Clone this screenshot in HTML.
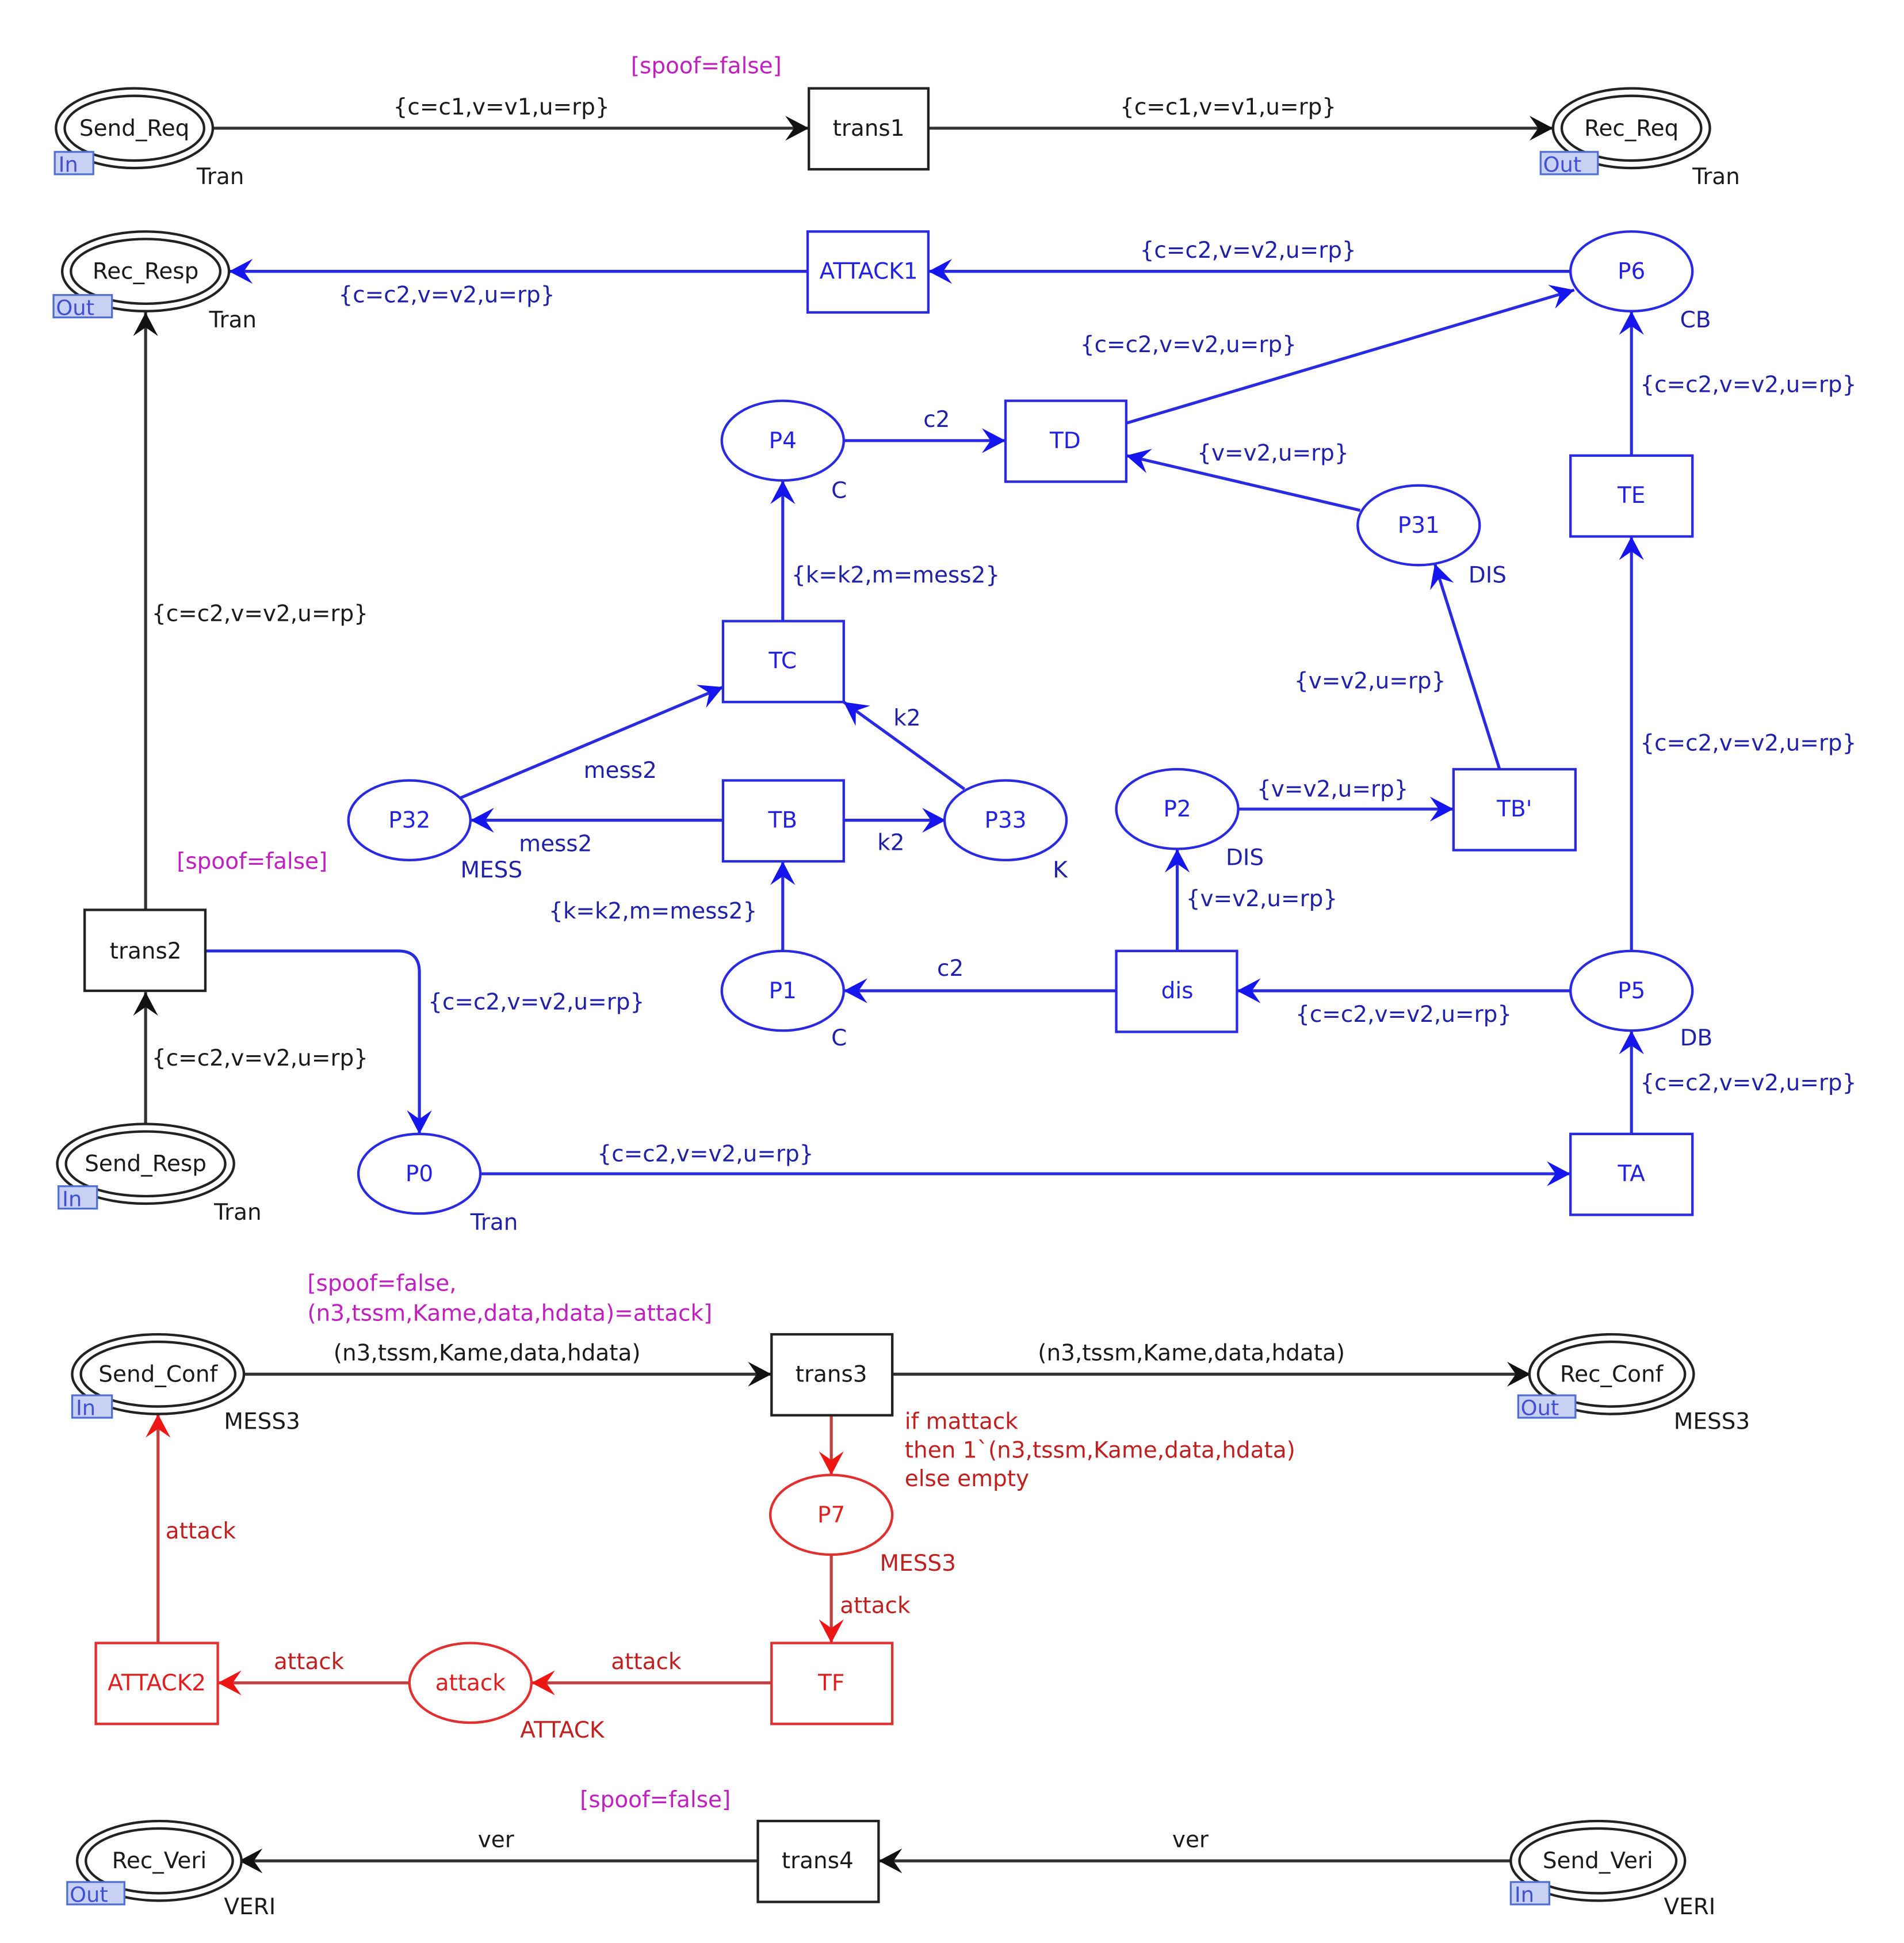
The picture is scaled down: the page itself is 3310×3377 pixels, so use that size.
<!DOCTYPE html>
<html><head><meta charset="utf-8"><style>
html,body{margin:0;padding:0;background:#fff;}
svg{display:block;}
text{font-family:"DejaVu Sans","Liberation Sans",sans-serif;font-size:18px;}
.k{fill:#1a1a1a}.b{fill:#2020a8}.bn{fill:#2222e0}.m{fill:#c020c0}.r{fill:#c02020}.rn{fill:#e02020}
</style></head><body>
<svg width="3310" height="3377" viewBox="0 0 1530 1561" preserveAspectRatio="none" xmlns="http://www.w3.org/2000/svg">
<defs>
<marker id="ak" markerUnits="userSpaceOnUse" markerWidth="24" markerHeight="24" refX="0" refY="0" viewBox="-20 -12 22 24" orient="auto"><path d="M0,0 L-19,-10 L-12,0 L-19,10 Z" fill="#111"/></marker>
<marker id="ab" markerUnits="userSpaceOnUse" markerWidth="24" markerHeight="24" refX="0" refY="0" viewBox="-20 -12 22 24" orient="auto"><path d="M0,0 L-19,-10 L-12,0 L-19,10 Z" fill="#1515ee"/></marker>
<marker id="ar" markerUnits="userSpaceOnUse" markerWidth="24" markerHeight="24" refX="0" refY="0" viewBox="-20 -12 22 24" orient="auto"><path d="M0,0 L-19,-10 L-12,0 L-19,10 Z" fill="#ee1515"/></marker>
</defs>
<g fill="none" stroke-width="2.4">
<!-- black arcs -->
<g stroke="#333" marker-end="url(#ak)">
<line x1="171" y1="103" x2="650" y2="103"/>
<line x1="746" y1="103" x2="1248" y2="103"/>
<line x1="117" y1="731" x2="117" y2="251"/>
<line x1="117" y1="903" x2="117" y2="797"/>
<line x1="190" y1="1104" x2="620" y2="1104"/>
<line x1="717" y1="1104" x2="1230" y2="1104"/>
<line x1="1216" y1="1495" x2="706" y2="1495"/>
<line x1="609" y1="1495" x2="192" y2="1495"/>
</g>
<!-- blue arcs -->
<g stroke="#2a2ae0" marker-end="url(#ab)">
<line x1="1262" y1="218" x2="746" y2="218"/>
<line x1="649" y1="218" x2="184" y2="218"/>
<line x1="905" y1="340" x2="1265" y2="233"/>
<line x1="1311" y1="366" x2="1311" y2="250"/>
<line x1="678" y1="354" x2="808" y2="354"/>
<line x1="1093" y1="410" x2="905" y2="366"/>
<line x1="629" y1="499" x2="629" y2="386"/>
<line x1="370" y1="641" x2="581" y2="552"/>
<line x1="775" y1="634" x2="678" y2="564"/>
<line x1="581" y1="659" x2="378" y2="659"/>
<line x1="678" y1="659" x2="760" y2="659"/>
<line x1="629" y1="764" x2="629" y2="692"/>
<line x1="1205" y1="618" x2="1153" y2="453"/>
<line x1="995" y1="650" x2="1168" y2="650"/>
<line x1="946" y1="764" x2="946" y2="682"/>
<line x1="897" y1="796" x2="678" y2="796"/>
<line x1="1262" y1="796" x2="994" y2="796"/>
<line x1="1311" y1="764" x2="1311" y2="431"/>
<line x1="1311" y1="911" x2="1311" y2="828"/>
<line x1="386" y1="943" x2="1262" y2="943"/>
<path d="M165,764 L320,764 Q337,764 337,781 L337,911"/>
</g>
<!-- red arcs -->
<g stroke="#c04040" marker-end="url(#ar)">
<line x1="668" y1="1137" x2="668" y2="1185"/>
<line x1="668" y1="1249" x2="668" y2="1320"/>
<line x1="620" y1="1352" x2="427" y2="1352"/>
<line x1="329" y1="1352" x2="175" y2="1352"/>
<line x1="127" y1="1320" x2="127" y2="1136"/>
</g>
<!-- black places -->
<g stroke="#222" fill="#fff" stroke-width="2">
<ellipse cx="108" cy="103" rx="63" ry="32"/><ellipse cx="108" cy="103" rx="56" ry="26"/>
<ellipse cx="1311" cy="103" rx="63" ry="32"/><ellipse cx="1311" cy="103" rx="56" ry="26"/>
<ellipse cx="117" cy="218" rx="67" ry="32"/><ellipse cx="117" cy="218" rx="60" ry="26"/>
<ellipse cx="117" cy="935" rx="71" ry="32"/><ellipse cx="117" cy="935" rx="64" ry="26"/>
<ellipse cx="127" cy="1104" rx="69" ry="32"/><ellipse cx="127" cy="1104" rx="62" ry="26"/>
<ellipse cx="1295" cy="1104" rx="66" ry="32"/><ellipse cx="1295" cy="1104" rx="59" ry="26"/>
<ellipse cx="128" cy="1495" rx="66" ry="32"/><ellipse cx="128" cy="1495" rx="59" ry="26"/>
<ellipse cx="1284" cy="1495" rx="70" ry="32"/><ellipse cx="1284" cy="1495" rx="63" ry="26"/>
<rect x="650" y="71" width="96" height="65"/>
<rect x="68" y="731" width="97" height="65"/>
<rect x="620" y="1072" width="97" height="65"/>
<rect x="609" y="1463" width="97" height="65"/>
</g>
<!-- port tags -->
<g fill="#c8d0f4" stroke="#5070d0" stroke-width="1.5">
<rect x="44" y="122" width="31" height="18"/>
<rect x="1238" y="122" width="46" height="18"/>
<rect x="43" y="237" width="47" height="18"/>
<rect x="47" y="953" width="31" height="18"/>
<rect x="58" y="1121" width="32" height="18"/>
<rect x="1220" y="1121" width="46" height="18"/>
<rect x="54" y="1512" width="46" height="18"/>
<rect x="1214" y="1512" width="31" height="18"/>
</g>
<!-- blue nodes -->
<g stroke="#2a2ae0" fill="#fff" stroke-width="2">
<rect x="649" y="186" width="97" height="65"/>
<rect x="808" y="322" width="97" height="65"/>
<rect x="1262" y="366" width="98" height="65"/>
<rect x="581" y="499" width="97" height="65"/>
<rect x="581" y="627" width="97" height="65"/>
<rect x="1168" y="618" width="98" height="65"/>
<rect x="897" y="764" width="97" height="65"/>
<rect x="1262" y="911" width="98" height="65"/>
<ellipse cx="1311" cy="218" rx="49" ry="32"/>
<ellipse cx="629" cy="354" rx="49" ry="32"/>
<ellipse cx="1140" cy="422" rx="49" ry="32"/>
<ellipse cx="329" cy="659" rx="49" ry="32"/>
<ellipse cx="808" cy="659" rx="49" ry="32"/>
<ellipse cx="946" cy="650" rx="49" ry="32"/>
<ellipse cx="629" cy="796" rx="49" ry="32"/>
<ellipse cx="1311" cy="796" rx="49" ry="32"/>
<ellipse cx="337" cy="943" rx="49" ry="32"/>
</g>
<!-- red nodes -->
<g stroke="#e03030" fill="#fff" stroke-width="2">
<rect x="620" y="1320" width="97" height="65"/>
<rect x="77" y="1320" width="98" height="65"/>
<ellipse cx="668" cy="1217" rx="49" ry="32"/>
<ellipse cx="378" cy="1352" rx="49" ry="32"/>
</g>
</g>
<!-- port tag text -->
<g fill="#4050d0" font-size="17">
<text x="47" y="138" style="font-size:17px">In</text>
<text x="1240" y="138" style="font-size:17px">Out</text>
<text x="45" y="253" style="font-size:17px">Out</text>
<text x="50" y="969" style="font-size:17px">In</text>
<text x="61" y="1137" style="font-size:17px">In</text>
<text x="1222" y="1137" style="font-size:17px">Out</text>
<text x="56" y="1528" style="font-size:17px">Out</text>
<text x="1217" y="1528" style="font-size:17px">In</text>
</g>
<!-- node names -->
<g text-anchor="middle">
<text class="k" x="108" y="109">Send_Req</text>
<text class="k" x="1311" y="109">Rec_Req</text>
<text class="k" x="117" y="224">Rec_Resp</text>
<text class="k" x="117" y="941">Send_Resp</text>
<text class="k" x="127" y="1110">Send_Conf</text>
<text class="k" x="1295" y="1110">Rec_Conf</text>
<text class="k" x="128" y="1501">Rec_Veri</text>
<text class="k" x="1284" y="1501">Send_Veri</text>
<text class="k" x="698" y="109">trans1</text>
<text class="k" x="117" y="770">trans2</text>
<text class="k" x="668" y="1110">trans3</text>
<text class="k" x="657" y="1501">trans4</text>
<text class="bn" x="698" y="224">ATTACK1</text>
<text class="bn" x="856" y="360">TD</text>
<text class="bn" x="1311" y="404">TE</text>
<text class="bn" x="629" y="537">TC</text>
<text class="bn" x="629" y="665">TB</text>
<text class="bn" x="1217" y="656">TB'</text>
<text class="bn" x="946" y="802">dis</text>
<text class="bn" x="1311" y="949">TA</text>
<text class="bn" x="1311" y="224">P6</text>
<text class="bn" x="629" y="360">P4</text>
<text class="bn" x="1140" y="428">P31</text>
<text class="bn" x="329" y="665">P32</text>
<text class="bn" x="808" y="665">P33</text>
<text class="bn" x="946" y="656">P2</text>
<text class="bn" x="629" y="802">P1</text>
<text class="bn" x="1311" y="802">P5</text>
<text class="bn" x="337" y="949">P0</text>
<text class="rn" x="668" y="1223">P7</text>
<text class="rn" x="378" y="1358">attack</text>
<text class="rn" x="668" y="1358">TF</text>
<text class="rn" x="126" y="1358">ATTACK2</text>
</g>
<!-- color sets -->
<text class="k" x="158" y="148">Tran</text>
<text class="k" x="1360" y="148">Tran</text>
<text class="k" x="168" y="263">Tran</text>
<text class="k" x="172" y="980">Tran</text>
<text class="k" x="180" y="1148">MESS3</text>
<text class="k" x="1345" y="1148">MESS3</text>
<text class="k" x="180" y="1538">VERI</text>
<text class="k" x="1337" y="1538">VERI</text>
<text class="b" x="1350" y="263">CB</text>
<text class="b" x="668" y="400">C</text>
<text class="b" x="1180" y="468">DIS</text>
<text class="b" x="370" y="705">MESS</text>
<text class="b" x="846" y="705">K</text>
<text class="b" x="985" y="695">DIS</text>
<text class="b" x="668" y="840">C</text>
<text class="b" x="1350" y="840">DB</text>
<text class="b" x="378" y="988">Tran</text>
<text class="r" x="707" y="1262">MESS3</text>
<text class="r" x="418" y="1396">ATTACK</text>
<!-- guards -->
<text class="m" x="507" y="59">[spoof=false]</text>
<text class="m" x="142" y="698">[spoof=false]</text>
<text class="m" x="247" y="1037">[spoof=false,</text>
<text class="m" x="247" y="1061">(n3,tssm,Kame,data,hdata)=attack]</text>
<text class="m" x="466" y="1452">[spoof=false]</text>
<!-- arc labels -->
<text class="k" x="316" y="92">{c=c1,v=v1,u=rp}</text>
<text class="k" x="900" y="92">{c=c1,v=v1,u=rp}</text>
<text class="k" x="122" y="499">{c=c2,v=v2,u=rp}</text>
<text class="k" x="122" y="856">{c=c2,v=v2,u=rp}</text>
<text class="k" x="268" y="1093">(n3,tssm,Kame,data,hdata)</text>
<text class="k" x="834" y="1093">(n3,tssm,Kame,data,hdata)</text>
<text class="k" x="384" y="1484">ver</text>
<text class="k" x="942" y="1484">ver</text>
<text class="b" x="916" y="207">{c=c2,v=v2,u=rp}</text>
<text class="b" x="272" y="243">{c=c2,v=v2,u=rp}</text>
<text class="b" x="868" y="283">{c=c2,v=v2,u=rp}</text>
<text class="b" x="1318" y="315">{c=c2,v=v2,u=rp}</text>
<text class="b" x="742" y="343">c2</text>
<text class="b" x="962" y="370">{v=v2,u=rp}</text>
<text class="b" x="636" y="468">{k=k2,m=mess2}</text>
<text class="b" x="1040" y="553">{v=v2,u=rp}</text>
<text class="b" x="718" y="583">k2</text>
<text class="b" x="1318" y="603">{c=c2,v=v2,u=rp}</text>
<text class="b" x="469" y="625">mess2</text>
<text class="b" x="1010" y="640">{v=v2,u=rp}</text>
<text class="b" x="417" y="684">mess2</text>
<text class="b" x="705" y="683">k2</text>
<text class="b" x="953" y="728">{v=v2,u=rp}</text>
<text class="b" x="441" y="738">{k=k2,m=mess2}</text>
<text class="b" x="753" y="784">c2</text>
<text class="b" x="344" y="811">{c=c2,v=v2,u=rp}</text>
<text class="b" x="1041" y="821">{c=c2,v=v2,u=rp}</text>
<text class="b" x="1318" y="876">{c=c2,v=v2,u=rp}</text>
<text class="b" x="480" y="933">{c=c2,v=v2,u=rp}</text>
<text class="r" x="727" y="1148">if mattack</text>
<text class="r" x="727" y="1171">then 1`(n3,tssm,Kame,data,hdata)</text>
<text class="r" x="727" y="1194">else empty</text>
<text class="r" x="675" y="1296">attack</text>
<text class="r" x="491" y="1341">attack</text>
<text class="r" x="220" y="1341">attack</text>
<text class="r" x="133" y="1236">attack</text>
</svg>
</body></html>
